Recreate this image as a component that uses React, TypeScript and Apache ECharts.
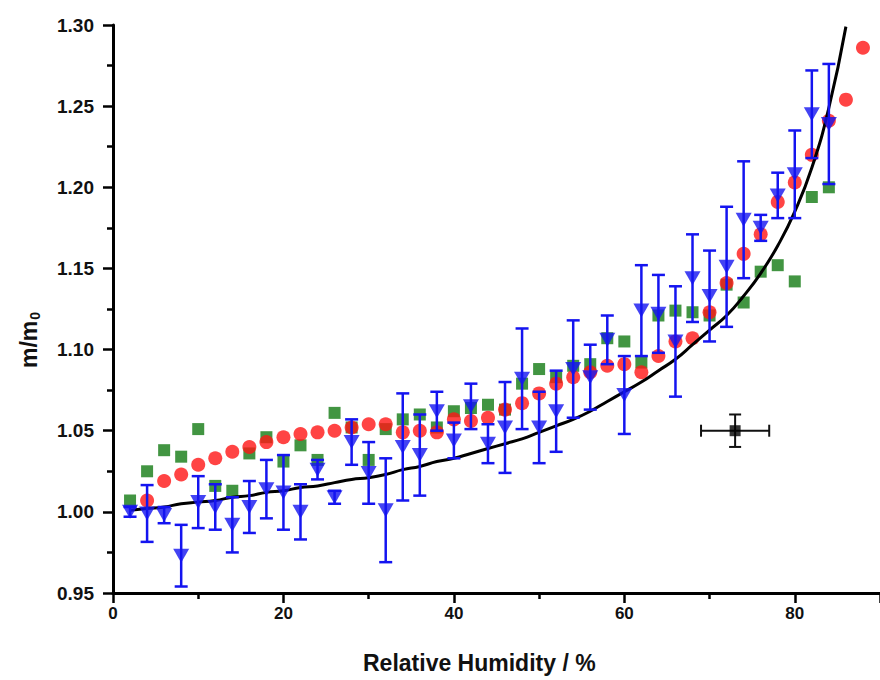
import React, { useEffect, useRef } from "react";
import * as echarts from "echarts";

// Red circles
const redX = [4, 6, 8, 10, 12, 14, 16, 18, 20, 22, 24, 26, 28, 30, 32, 34, 36, 38, 40, 42, 44, 46, 48, 50, 52, 54, 56, 58, 60, 62, 64, 66, 68, 70, 72, 74, 76, 78, 80, 82, 84, 86, 88];
const redY = [1.007, 1.019, 1.023, 1.029, 1.033, 1.037, 1.040, 1.043, 1.046, 1.048, 1.049, 1.050, 1.052, 1.054, 1.054, 1.049, 1.050, 1.049, 1.057, 1.056, 1.058, 1.063, 1.067, 1.073, 1.079, 1.083, 1.086, 1.090, 1.091, 1.086, 1.096, 1.105, 1.107, 1.123, 1.141, 1.159, 1.171, 1.191, 1.203, 1.220, 1.241, 1.254, 1.286];

// Green squares
const greenX = [2, 4, 6, 8, 10, 12, 14, 16, 18, 20, 22, 24, 26, 28, 30, 32, 34, 36, 38, 40, 42, 44, 46, 48, 50, 52, 54, 56, 58, 60, 62, 64, 66, 68, 70, 72, 74, 76, 78, 80, 82, 84];
const greenY = [1.007, 1.025, 1.038, 1.034, 1.051, 1.016, 1.013, 1.036, 1.046, 1.031, 1.041, 1.032, 1.061, 1.052, 1.032, 1.051, 1.057, 1.060, 1.052, 1.062, 1.064, 1.066, 1.063, 1.079, 1.088, 1.083, 1.090, 1.091, 1.107, 1.105, 1.092, 1.121, 1.124, 1.123, 1.121, 1.140, 1.129, 1.148, 1.152, 1.142, 1.194, 1.200];

// Blue triangles with error bars
const blueX = [2, 4, 6, 8, 10, 12, 14, 16, 18, 20, 22, 24, 26, 28, 30, 32, 34, 36, 38, 40, 42, 44, 46, 48, 50, 52, 54, 56, 58, 60, 62, 64, 66, 68, 70, 72, 74, 76, 78, 80, 82, 84];
const blueY = [1.000, 0.999, 0.998, 0.973, 1.006, 1.003, 0.992, 1.003, 1.014, 1.012, 1.000, 1.026, 1.009, 1.043, 1.024, 1.001, 1.040, 1.035, 1.062, 1.044, 1.065, 1.042, 1.052, 1.082, 1.052, 1.062, 1.088, 1.083, 1.106, 1.072, 1.124, 1.122, 1.105, 1.144, 1.133, 1.151, 1.180, 1.175, 1.195, 1.208, 1.245, 1.239];
const blueErr = [0.003, 0.0175, 0.005, 0.019, 0.016, 0.014, 0.017, 0.016, 0.018, 0.023, 0.017, 0.006, 0.004, 0.014, 0.019, 0.032, 0.033, 0.025, 0.012, 0.011, 0.014, 0.012, 0.028, 0.031, 0.022, 0.025, 0.030, 0.020, 0.015, 0.024, 0.028, 0.024, 0.034, 0.027, 0.028, 0.037, 0.036, 0.008, 0.014, 0.027, 0.027, 0.037];

// Fitted curve (every 2 % RH)
const curveX = [2, 4, 6, 8, 10, 12, 14, 16, 18, 20, 22, 24, 26, 28, 30, 32, 34, 36, 38, 40, 42, 44, 46, 48, 50, 52, 54, 56, 58, 60, 62, 64, 66, 68, 70, 72, 74, 76, 78, 80, 82, 84, 86];
const curveY = [1.001, 1.002, 1.003, 1.005, 1.006, 1.007, 1.009, 1.010, 1.012, 1.013, 1.015, 1.016, 1.018, 1.020, 1.021, 1.023, 1.026, 1.028, 1.031, 1.033, 1.036, 1.039, 1.042, 1.045, 1.049, 1.053, 1.057, 1.062, 1.068, 1.074, 1.080, 1.087, 1.094, 1.103, 1.112, 1.121, 1.133, 1.147, 1.164, 1.185, 1.212, 1.249, 1.299];

// Reference error point
const refPoint = [73, 1.05];
const refErrX = 4;
const refErrY = 0.01;

const xTicks = [0, 20, 40, 60, 80];
const yTickLabels = ["0.95", "1.00", "1.05", "1.10", "1.15", "1.20", "1.25", "1.30"];

const RED = "#ff1515";
const GREEN = "#137a13";
const BLUE = "#1414f0";

export default function App() {
  const ref = useRef<HTMLDivElement>(null);
  useEffect(() => {
    document.body.style.margin = "0";
    const chart = echarts.init(ref.current!, null, { renderer: "svg" });
    const font = "'Liberation Sans', Arial, sans-serif";
    const option: any = {
      animation: false,
      backgroundColor: "#ffffff",
      grid: { left: 113, top: 25, right: -9, bottom: 87, containLabel: false },
      xAxis: {
        type: "value",
        min: 0,
        max: 90,
        interval: 20,
        axisLine: { show: true, lineStyle: { color: "#000", width: 3 } },
        axisTick: { show: true, length: 10, lineStyle: { color: "#000", width: 2.5 } },
        minorTick: { show: true, splitNumber: 2, length: 6, lineStyle: { color: "#000", width: 2.5 } },
        splitLine: { show: false },
        axisLabel: {
          showMaxLabel: false,
          margin: 12,
          color: "#111",
          fontFamily: font,
          fontWeight: "bold",
          fontSize: 17,
          formatter: (v: number) => (xTicks.indexOf(v) >= 0 ? String(v) : ""),
        },
      },
      yAxis: {
        type: "value",
        min: 0.95,
        max: 1.3,
        interval: 0.05,
        axisLine: { show: true, lineStyle: { color: "#000", width: 3 } },
        axisTick: { show: true, length: 10, lineStyle: { color: "#000", width: 2.5 } },
        minorTick: { show: true, splitNumber: 2, length: 6, lineStyle: { color: "#000", width: 2.5 } },
        splitLine: { show: false },
        axisLabel: {
          margin: 19,
          color: "#111",
          fontFamily: font,
          fontWeight: "bold",
          fontSize: 19,
          formatter: (v: number) => {
            const i = Math.round((v - 0.95) / 0.05);
            return yTickLabels[i] ?? "";
          },
        },
      },
      graphic: [
        {
          type: "text",
          left: 363,
          top: 651,
          style: {
            text: "Relative Humidity / %",
            fontFamily: font,
            fontWeight: "bold",
            fontSize: 23,
            fill: "#111",
          },
        },
        {
          type: "text",
          x: 16,
          y: 368,
          rotation: Math.PI / 2,
          style: {
            text: "{a|m/m}{b|0}",
            rich: {
              a: { fontFamily: font, fontWeight: "bold", fontSize: 23, fill: "#111" },
              b: { fontFamily: font, fontWeight: "bold", fontSize: 14, fill: "#111", padding: [12, 0, 0, 1] },
            },
          },
        },
      ],
      series: [
        {
          type: "scatter",
          name: "green",
          data: greenX.map((x, i) => [x, greenY[i]]),
          symbol: "rect",
          symbolSize: 12,
          itemStyle: { color: GREEN },
          z: 2,
        },
        {
          type: "scatter",
          name: "red",
          data: redX.map((x, i) => [x, redY[i]]),
          symbol: "circle",
          symbolSize: 14,
          itemStyle: { color: RED },
          z: 3,
        },
        {
          type: "line",
          name: "fit",
          data: curveX.map((x, i) => [x, curveY[i]]),
          smooth: 0.5,
          showSymbol: false,
          symbol: "none",
          lineStyle: { color: "#000", width: 3 },
          z: 4,
        },
        {
          type: "custom",
          name: "blueErr",
          data: blueX.map((x, i) => [x, blueY[i], blueErr[i]]),
          encode: { x: 0, y: 1 },
          clip: false,
          z: 5,
          renderItem: (params: any, api: any) => {
            const x = api.value(0);
            const y = api.value(1);
            const e = api.value(2);
            const top = api.coord([x, y + e]);
            const bot = api.coord([x, y - e]);
            const hw = 6.5;
            const style = { stroke: BLUE, lineWidth: 2.5, fill: "none" };
            return {
              type: "group",
              children: [
                { type: "line", shape: { x1: top[0], y1: top[1], x2: bot[0], y2: bot[1] }, style },
                { type: "line", shape: { x1: top[0] - hw, y1: top[1], x2: top[0] + hw, y2: top[1] }, style },
                { type: "line", shape: { x1: bot[0] - hw, y1: bot[1], x2: bot[0] + hw, y2: bot[1] }, style },
              ],
            };
          },
        },
        {
          type: "scatter",
          name: "blue",
          data: blueX.map((x, i) => [x, blueY[i]]),
          symbol: "triangle",
          symbolRotate: 180,
          symbolSize: [16, 14],
          itemStyle: { color: BLUE },
          z: 6,
        },
        {
          type: "custom",
          name: "refErr",
          data: [[refPoint[0], refPoint[1], refErrX, refErrY]],
          encode: { x: 0, y: 1 },
          z: 7,
          renderItem: (params: any, api: any) => {
            const x = api.value(0);
            const y = api.value(1);
            const ex = api.value(2);
            const ey = api.value(3);
            const t = api.coord([x, y + ey]);
            const b = api.coord([x, y - ey]);
            const l = api.coord([x - ex, y]);
            const r = api.coord([x + ex, y]);
            const h = 6;
            const style = { stroke: "#111", lineWidth: 2, fill: "none" };
            return {
              type: "group",
              children: [
                { type: "line", shape: { x1: t[0], y1: t[1], x2: b[0], y2: b[1] }, style },
                { type: "line", shape: { x1: t[0] - h, y1: t[1], x2: t[0] + h, y2: t[1] }, style },
                { type: "line", shape: { x1: b[0] - h, y1: b[1], x2: b[0] + h, y2: b[1] }, style },
                { type: "line", shape: { x1: l[0], y1: l[1], x2: r[0], y2: r[1] }, style },
                { type: "line", shape: { x1: l[0], y1: l[1] - h, x2: l[0], y2: l[1] + h }, style },
                { type: "line", shape: { x1: r[0], y1: r[1] - h, x2: r[0], y2: r[1] + h }, style },
              ],
            };
          },
        },
        {
          type: "scatter",
          name: "ref",
          data: [refPoint],
          symbol: "rect",
          symbolSize: 11,
          itemStyle: { color: "#000" },
          z: 8,
        },
      ],
    };
    chart.setOption(option);
    return () => chart.dispose();
  }, []);
  return (
    <div
      ref={ref}
      style={{ position: "absolute", left: 0, top: 0, width: 880, height: 680, background: "#fff" }}
    />
  );
}
